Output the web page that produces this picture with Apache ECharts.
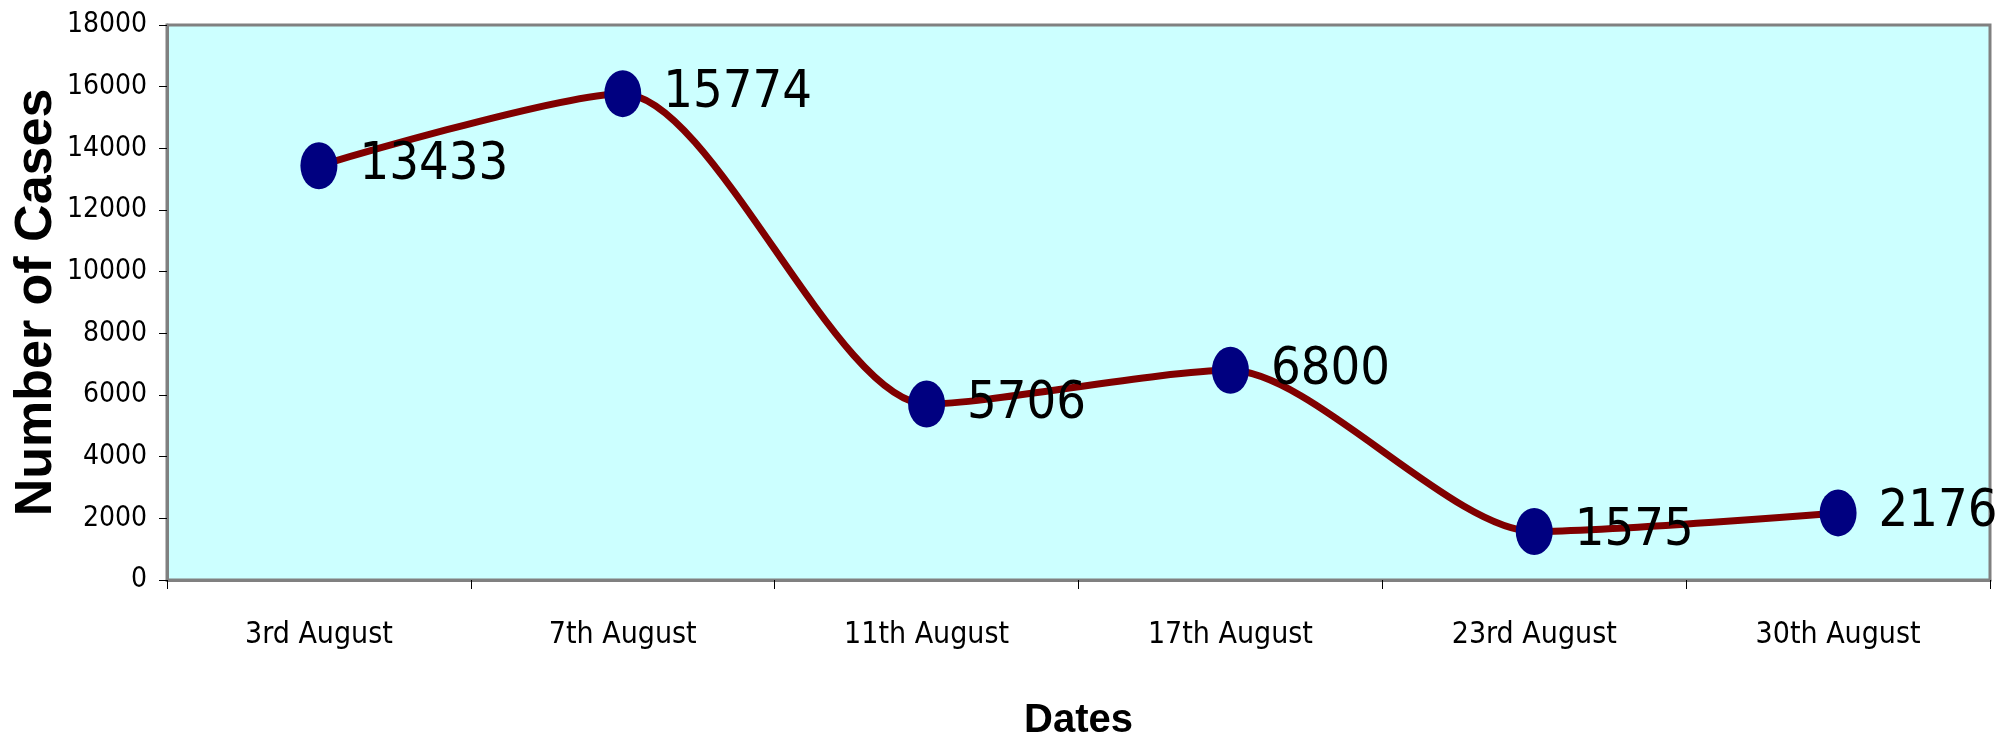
<!DOCTYPE html>
<html>
<head>
<meta charset="utf-8">
<script src="https://cdn.jsdelivr.net/npm/echarts@6/dist/echarts.min.js"></script>
<style>
  html, body { margin: 0; padding: 0; background: #fff; }
  #chart { width: 1998px; height: 737px; }
</style>
</head>
<body>
<div id="chart"></div>
<script>
// data
const dates = ['3rd August', '7th August', '11th August', '17th August', '23rd August', '30th August'];
const cases = [13433, 15774, 5706, 6800, 1575, 2176];

const narrow = "'Liberation Sans Narrow', 'DejaVu Sans Condensed', 'Liberation Sans', sans-serif";

const chart = echarts.init(document.getElementById('chart'));

const option = {
  animation: false,
  backgroundColor: '#ffffff',
  grid: {
    left: 167,
    right: 8,
    top: 25,
    bottom: 157,
    outerBoundsMode: 'none',
    containLabel: false,
    show: true,
    backgroundColor: '#ccffff',
    borderColor: '#808080',
    borderWidth: 3
  },
  xAxis: {
    type: 'category',
    data: dates,
    boundaryGap: true,
    name: 'Dates',
    nameLocation: 'middle',
    nameGap: 121,
    nameMoveOverlap: false,
    nameTextStyle: {
      fontFamily: "'Liberation Sans', Arial, sans-serif",
      fontWeight: 'bold',
      fontSize: 40,
      color: '#000'
    },
    axisLine: { lineStyle: { color: '#808080', width: 3 } },
    axisTick: { show: true, length: 9, lineStyle: { color: '#000', width: 1 } },
    axisLabel: {
      margin: 40,
      fontFamily: narrow,
      fontSize: 30,
      color: '#000'
    },
    splitLine: { show: false }
  },
  yAxis: {
    type: 'value',
    min: 0,
    max: 18000,
    interval: 2000,
    name: 'Number of Cases',
    nameLocation: 'middle',
    nameGap: 104,
    nameMoveOverlap: false,
    nameTextStyle: {
      fontFamily: "'Liberation Sans', Arial, sans-serif",
      fontWeight: 'bold',
      fontSize: 52,
      color: '#000'
    },
    axisLine: { show: true, lineStyle: { color: '#808080', width: 3 } },
    axisTick: { show: true, length: 8, lineStyle: { color: '#000', width: 1 } },
    axisLabel: {
      margin: 20,
      fontFamily: narrow,
      fontSize: 28,
      color: '#000',
      formatter: function (v) { return String(v); }
    },
    splitLine: { show: false }
  },
  series: [
    {
      name: 'Cases',
      type: 'line',
      data: cases,
      smooth: 0.25,
      symbol: 'circle',
      symbolSize: [37, 47],
      lineStyle: { color: '#800000', width: 7 },
      itemStyle: { color: '#000080' },
      label: {
        show: true,
        position: 'right',
        distance: 22,
        fontFamily: narrow,
        fontSize: 52,
        color: '#000'
      },
      z: 3
    }
  ]
};

chart.setOption(option);
</script>
</body>
</html>
